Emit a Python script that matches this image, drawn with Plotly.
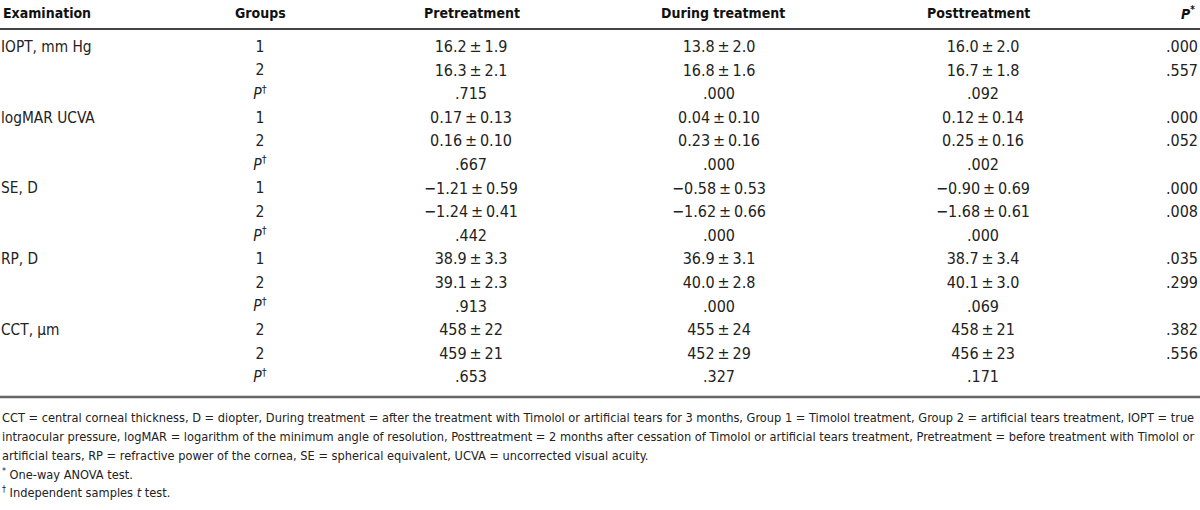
import plotly.graph_objects as go

# ---- data ----
headers = ["Examination", "Groups", "Pretreatment", "During treatment", "Posttreatment", "<i>P</i><sup>*</sup>"]
examinations = ["IOPT, mm Hg", "", "", "logMAR UCVA", "", "", "SE, D", "", "", "RP, D", "", "", "CCT, μm", "", ""]
groups = ["1", "2", "<i>P</i><sup>†</sup>", "1", "2", "<i>P</i><sup>†</sup>", "1", "2", "<i>P</i><sup>†</sup>",
          "1", "2", "<i>P</i><sup>†</sup>", "2", "2", "<i>P</i><sup>†</sup>"]
pretreatment = ["16.2 ± 1.9", "16.3 ± 2.1", ".715", "0.17 ± 0.13", "0.16 ± 0.10", ".667",
                "−1.21 ± 0.59", "−1.24 ± 0.41", ".442", "38.9 ± 3.3", "39.1 ± 2.3", ".913",
                "458 ± 22", "459 ± 21", ".653"]
during = ["13.8 ± 2.0", "16.8 ± 1.6", ".000", "0.04 ± 0.10", "0.23 ± 0.16", ".000",
          "−0.58 ± 0.53", "−1.62 ± 0.66", ".000", "36.9 ± 3.1", "40.0 ± 2.8", ".000",
          "455 ± 24", "452 ± 29", ".327"]
posttreatment = ["16.0 ± 2.0", "16.7 ± 1.8", ".092", "0.12 ± 0.14", "0.25 ± 0.16", ".002",
                 "−0.90 ± 0.69", "−1.68 ± 0.61", ".000", "38.7 ± 3.4", "40.1 ± 3.0", ".069",
                 "458 ± 21", "456 ± 23", ".171"]
p_anova = [".000", ".557", "", ".000", ".052", "", ".000", ".008", "", ".035", ".299", "",
           ".382", ".556", ""]
footnotes = [
    "CCT = central corneal thickness, D = diopter, During treatment = after the treatment with Timolol or artificial tears for 3 months, Group 1 = Timolol treatment, Group 2 = artificial tears treatment, IOPT = true",
    "intraocular pressure, logMAR = logarithm of the minimum angle of resolution, Posttreatment = 2 months after cessation of Timolol or artificial tears treatment, Pretreatment = before treatment with Timolol or",
    "artificial tears, RP = refractive power of the cornea, SE = spherical equivalent, UCVA = uncorrected visual acuity.",
    "<sup>*</sup> One-way ANOVA test.",
    "<sup>†</sup> Independent samples <i>t</i> test.",
]

# ---- layout constants ----
W, H = 1200, 510
FONT = "DejaVu Sans Condensed, Liberation Sans Narrow, sans-serif"
TXT = "#222222"
row_top, row_step = 48, 23.6
header_y = 13
rows_y = [row_top + i * row_step for i in range(len(groups))]


def tidy(s):
    # tight spacing around the plus-minus sign, as in the reference
    return s.replace(" ± ", "\u2009±\u2009")


columns = [
    (examinations, 1, "middle right", 15.3),
    (groups, 260, "middle center", 15.5),
    ([tidy(v) for v in pretreatment], 471, "middle center", 16),
    ([tidy(v) for v in during], 719, "middle center", 16),
    ([tidy(v) for v in posttreatment], 983, "middle center", 16),
    (p_anova, 1198, "middle left", 16),
]
header_x = [(1, "left"), (260, "center"), (472, "center"), (723, "center"), (978, "center"), (1197, "right")]

fig = go.Figure()
for vals, x, pos, size in columns:
    keep = [i for i, v in enumerate(vals) if v]
    fig.add_trace(go.Scatter(
        x=[x] * len(keep), y=[rows_y[i] for i in keep], text=[vals[i] for i in keep], mode="text",
        textposition=pos, textfont=dict(family=FONT, size=size, color=TXT),
        hoverinfo="skip", showlegend=False, cliponaxis=False))

annotations = []
for h, (x, anchor) in zip(headers, header_x):
    annotations.append(dict(x=x, y=header_y, xref="x", yref="y", text="<b>" + h + "</b>",
                            xanchor=anchor, yanchor="middle", showarrow=False,
                            font=dict(family=FONT, size=14, color="#111111")))
foot_y = [417, 436, 455, 474, 492]
for t, y in zip(footnotes, foot_y):
    annotations.append(dict(x=0, y=y, xref="x", yref="y", text=t, xanchor="left", yanchor="middle",
                            showarrow=False, font=dict(family=FONT, size=12.7, color=TXT)))

shapes = [
    dict(type="line", x0=0, x1=W, y0=29, y1=29, xref="x", yref="y", line=dict(color="#444444", width=2)),
    dict(type="line", x0=0, x1=W, y0=397, y1=397, xref="x", yref="y", line=dict(color="#666666", width=2.5)),
]

fig.update_layout(
    width=W, height=H, margin=dict(l=0, r=0, t=0, b=0),
    paper_bgcolor="white", plot_bgcolor="white",
    xaxis=dict(range=[0, W], visible=False, fixedrange=True),
    yaxis=dict(range=[H, 0], visible=False, fixedrange=True),
    annotations=annotations, shapes=shapes,
)
fig.write_html("out.html", config={"displayModeBar": False},
               post_script="document.body.style.margin='0';")
